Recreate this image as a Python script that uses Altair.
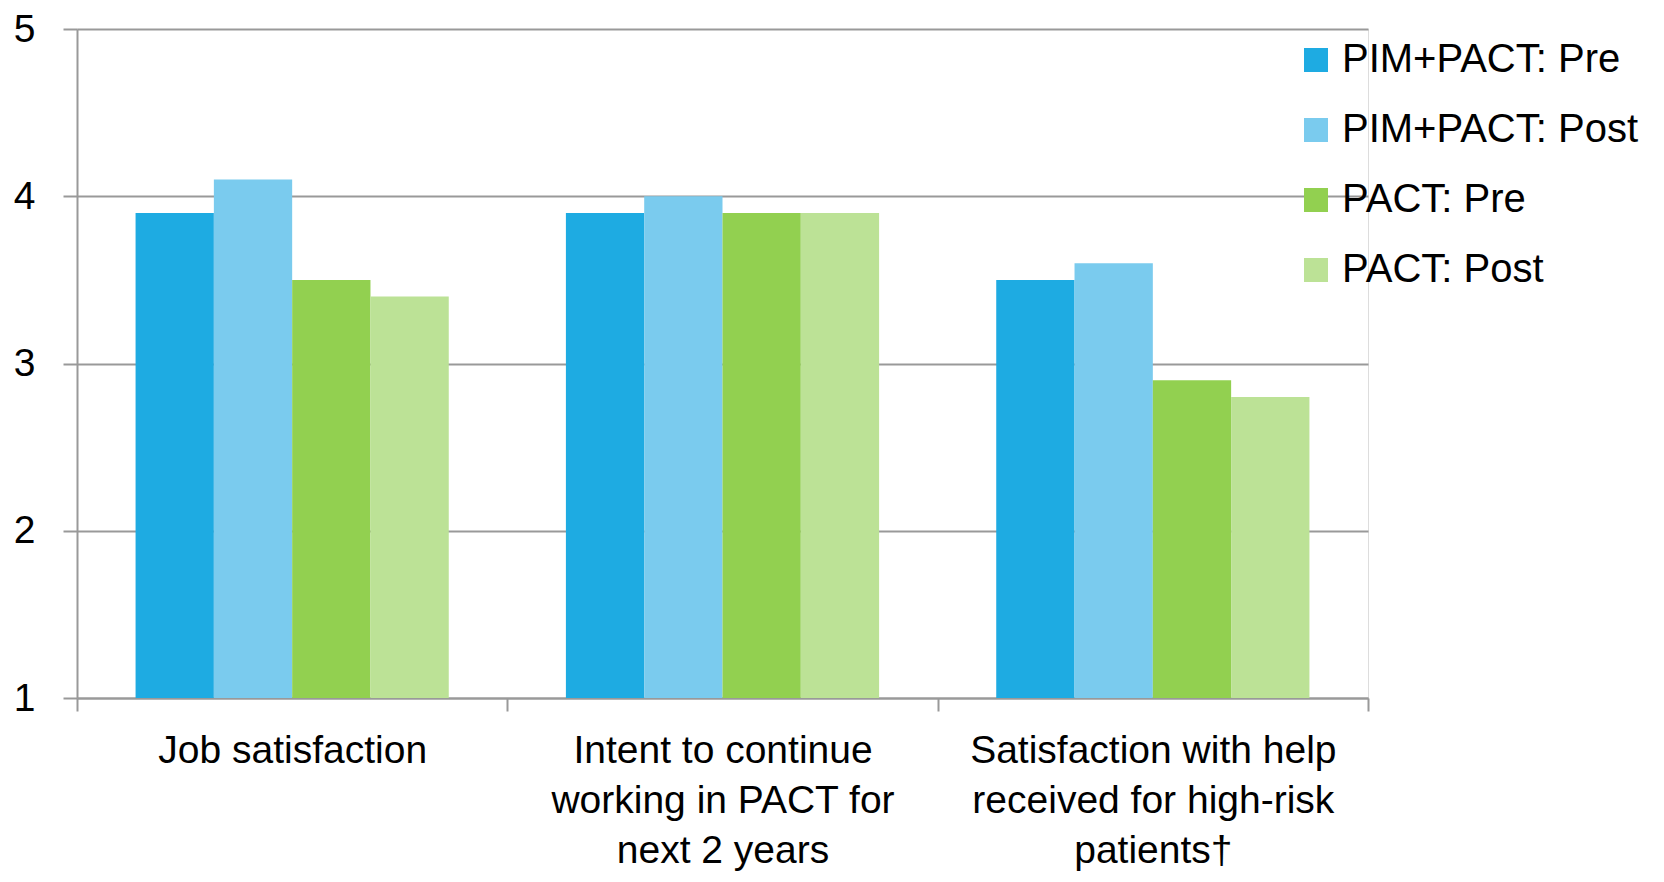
import altair as alt
import pandas as pd

categories = [
    "Job satisfaction",
    "Intent to continue working in PACT for next 2 years",
    "Satisfaction with help received for high-risk patients†",
]
category_lines = [
    ["Job satisfaction"],
    ["Intent to continue", "working in PACT for", "next 2 years"],
    ["Satisfaction with help", "received for high-risk", "patients†"],
]
series = ["PIM+PACT: Pre", "PIM+PACT: Post", "PACT: Pre", "PACT: Post"]
series_colors = ["#1EABE2", "#7ACBEE", "#92D050", "#BCE296"]
values = {
    "PIM+PACT: Pre": [3.9, 3.9, 3.5],
    "PIM+PACT: Post": [4.1, 4.0, 3.6],
    "PACT: Pre": [3.5, 3.9, 2.9],
    "PACT: Post": [3.4, 3.9, 2.8],
}
y_ticks = [1, 2, 3, 4, 5]
y_base = 1

rows = []
for s in series:
    for c, v in zip(categories, values[s]):
        rows.append({"category": c, "series": s, "value": v})
df = pd.DataFrame(rows)

label_expr = ""
for c, lines in zip(categories, category_lines):
    arr = "[" + ",".join("'" + l + "'" for l in lines) + "]"
    label_expr += f"datum.value == '{c}' ? {arr} : "
label_expr += "datum.label"

FONT = "Liberation Sans"
GRID = "#999999"

chart = (
    alt.Chart(df)
    .mark_bar()
    .encode(
        x=alt.X(
            "category:N",
            sort=categories,
            title=None,
            scale=alt.Scale(paddingInner=0, paddingOuter=0),
            axis=alt.Axis(
                labelAngle=0,
                labelExpr=label_expr,
                labelFont=FONT,
                labelFontSize=39,
                labelColor="#000000",
                labelLineHeight=50,
                labelPadding=20,
                labelLimit=600,
                tickBand="extent",
                tickSize=13,
                tickColor=GRID,
                tickWidth=2,
                domainColor=GRID,
                domainWidth=2,
                grid=False,
            ),
        ),
        xOffset=alt.XOffset(
            "series:N", sort=series, scale=alt.Scale(paddingInner=0, paddingOuter=0.748)
        ),
        y=alt.Y(
            "value:Q",
            title=None,
            scale=alt.Scale(domain=[1, 5], zero=False, nice=False),
            axis=alt.Axis(
                values=y_ticks,
                labelFont=FONT,
                labelFontSize=39,
                labelColor="#000000",
                labelPadding=28,
                tickSize=14,
                tickColor=GRID,
                tickWidth=2,
                domainColor=GRID,
                domainWidth=2,
                grid=True,
                gridColor=GRID,
                gridWidth=2,
            ),
        ),
        y2=alt.Y2(datum=y_base),
        color=alt.Color(
            "series:N",
            sort=series,
            scale=alt.Scale(domain=series, range=series_colors),
            legend=alt.Legend(
                title=None,
                orient="none",
                legendX=1219,
                legendY=11,
                symbolType="square",
                symbolSize=576,
                symbolStrokeWidth=0,
                labelFont=FONT,
                labelFontSize=40,
                labelColor="#000000",
                labelOffset=6,
                rowPadding=30,
                padding=0,
                labelLimit=400,
            ),
        ),
    )
    .properties(
        width=1291,
        height=669,
        autosize=alt.AutoSizeParams(type="none"),
        padding={"left": 69, "top": 21, "right": 288, "bottom": 176},
    )
    .configure_view(stroke=None)
    .configure(background="#ffffff")
)

chart.save("out.html", embed_options={"renderer": "svg", "actions": False})
